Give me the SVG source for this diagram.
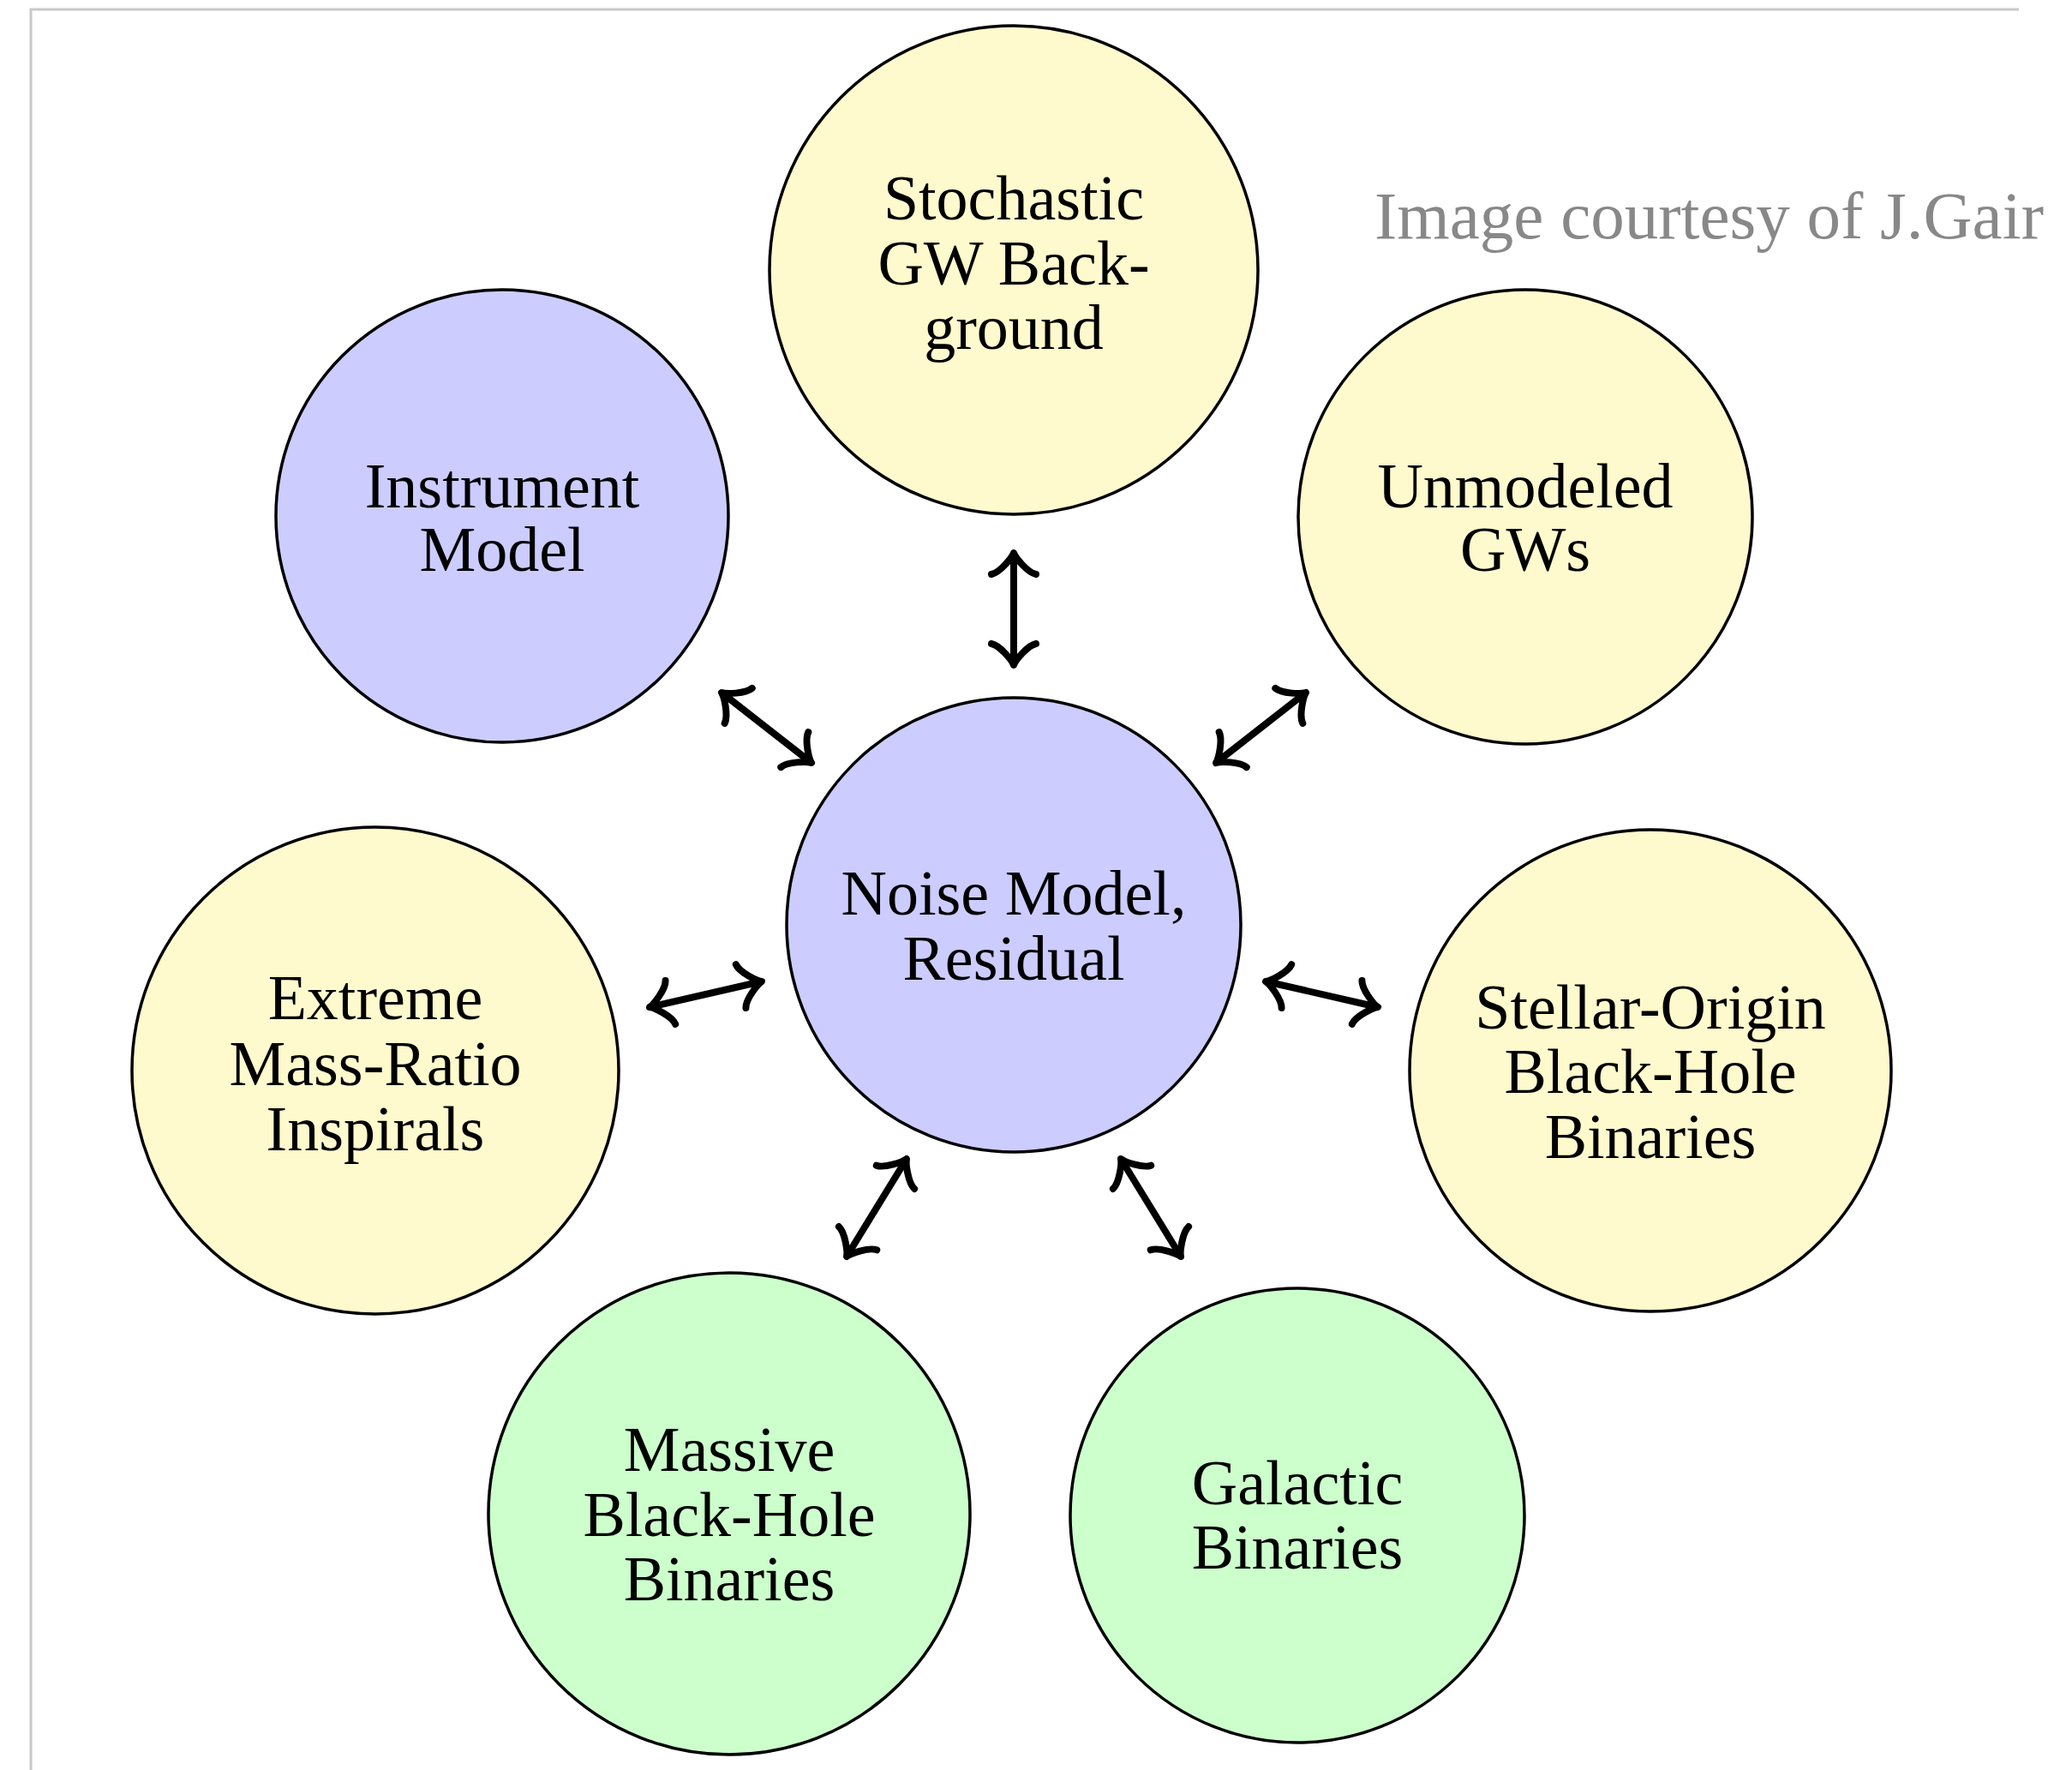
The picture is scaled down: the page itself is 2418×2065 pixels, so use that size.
<svg xmlns="http://www.w3.org/2000/svg" width="2418" height="2065" viewBox="0 0 2418 2065">
<style>
  .node { stroke: #000; stroke-width: 3.5; }
  .blue { fill: #ccccff; }
  .yellow { fill: #fffacd; }
  .green { fill: #ccffcc; }
  .lbl { font-family: "Liberation Serif", "Times New Roman", serif; font-size: 74px; fill: #000; text-anchor: middle; }
  .conn { stroke: #000; stroke-width: 8; fill: none; marker-start: url(#arr); marker-end: url(#arr); }
  .frame { stroke: #c8c8c8; stroke-width: 3; fill: none; }
  .credit { font-family: "Liberation Serif", "Times New Roman", serif; font-size: 79px; fill: #888888; }
</style>
<defs>
  <marker id="arr" viewBox="-40 -40 60 80" refX="0" refY="0" markerWidth="60" markerHeight="80" markerUnits="userSpaceOnUse" orient="auto-start-reverse">
    <path d="M -25,-26 C -23,-16 -5,-1.6 0,0 C -5,1.6 -23,16 -25,26" fill="none" stroke="#000" stroke-width="8" stroke-linecap="round" stroke-linejoin="round"/>
  </marker>
</defs>
<rect width="2418" height="2065" fill="#ffffff"/>
<g id="frame">
  <polyline class="frame" points="36,2065 36,11 2356,11"/>
</g>
<text class="credit" x="1604" y="278">Image courtesy of J.Gair</text>

<g id="stochastic">
  <circle class="node yellow" cx="1183" cy="315" r="285"/>
  <text class="lbl" x="1183" y="256">Stochastic</text>
  <text class="lbl" x="1183" y="332">GW Back-</text>
  <text class="lbl" x="1183" y="407">ground</text>
</g>
<g id="instrument">
  <circle class="node blue" cx="586" cy="602" r="264"/>
  <text class="lbl" x="586" y="592">Instrument</text>
  <text class="lbl" x="586" y="666">Model</text>
</g>
<g id="unmodeled">
  <circle class="node yellow" cx="1780" cy="603" r="265"/>
  <text class="lbl" x="1780" y="592">Unmodeled</text>
  <text class="lbl" x="1780" y="666">GWs</text>
</g>
<g id="noise">
  <circle class="node blue" cx="1183" cy="1079" r="265"/>
  <text class="lbl" x="1183" y="1067">Noise Model,</text>
  <text class="lbl" x="1183" y="1143">Residual</text>
</g>
<g id="emri">
  <circle class="node yellow" cx="438" cy="1249" r="284"/>
  <text class="lbl" x="438" y="1189">Extreme</text>
  <text class="lbl" x="438" y="1266">Mass-Ratio</text>
  <text class="lbl" x="438" y="1342">Inspirals</text>
</g>
<g id="sobhb">
  <circle class="node yellow" cx="1926" cy="1249" r="281"/>
  <text class="lbl" x="1926" y="1200">Stellar-Origin</text>
  <text class="lbl" x="1926" y="1275">Black-Hole</text>
  <text class="lbl" x="1926" y="1351">Binaries</text>
</g>
<g id="mbhb">
  <circle class="node green" cx="851" cy="1766" r="281"/>
  <text class="lbl" x="851" y="1716">Massive</text>
  <text class="lbl" x="851" y="1792">Black-Hole</text>
  <text class="lbl" x="851" y="1867">Binaries</text>
</g>
<g id="galactic">
  <circle class="node green" cx="1514" cy="1768" r="265"/>
  <text class="lbl" x="1514" y="1755">Galactic</text>
  <text class="lbl" x="1514" y="1830">Binaries</text>
</g>

<g id="connectors">
  <line class="conn" x1="1183" y1="645" x2="1183" y2="776"/>
  <line class="conn" x1="842" y1="808" x2="947" y2="890"/>
  <line class="conn" x1="1524" y1="808" x2="1419" y2="890"/>
  <line class="conn" x1="758" y1="1175" x2="889" y2="1145"/>
  <line class="conn" x1="1477" y1="1145" x2="1608" y2="1175"/>
  <line class="conn" x1="1058" y1="1352" x2="988" y2="1466"/>
  <line class="conn" x1="1308" y1="1352" x2="1378" y2="1466"/>
</g>
</svg>
